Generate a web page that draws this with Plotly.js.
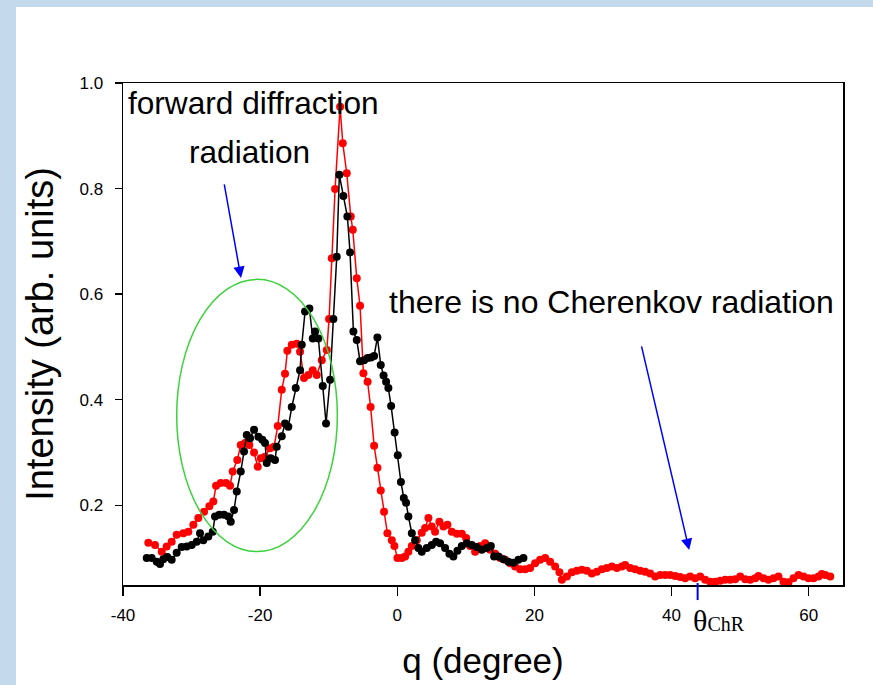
<!DOCTYPE html>
<html>
<head>
<meta charset="utf-8">
<script src="https://cdn.plot.ly/plotly-3.0.1.min.js"></script>
<style>html,body{margin:0;padding:0;background:#fff;}#chart{width:873px;height:685px;}</style>
</head>
<body>
<div id="chart"></div>
<script>
// Red series
const redX = [-36.31,-35.33,-34.35,-33.63,-32.90,-32.17,-31.20,-30.47,-29.74,-29.02,
-28.18,-27.41,-26.83,-26.43,-25.75,-24.97,-24.39,-24.00,-23.33,-22.83,
-22.20,-21.58,-20.89,-20.35,-19.91,-19.29,-18.56,-17.97,-17.43,-16.85,
-16.37,-16.03,-15.39,-14.66,-14.18,-13.60,-12.97,-12.33,-11.74,-11.01,
-10.28,-9.95,-9.55,-9.07,-8.34,-7.95,-7.37,-6.78,-6.49,-5.91,
-5.43,-4.94,-4.33,-3.89,-3.38,-2.90,-2.41,-1.93,-1.44,-0.80,
-0.42,0.02,0.66,1.14,1.62,2.12,2.84,3.57,4.06,4.54,
5.03,5.51,6.14,6.73,7.31,7.95,8.68,9.41,10.04,10.62,
11.35,12.08,12.81,13.54,14.27,15.00,15.73,16.46,17.18,17.91,
18.64,19.37,20.10,20.83,21.56,22.29,23.02,23.65,24.00,24.73,
25.46,26.19,26.92,27.65,28.37,29.10,29.83,30.56,31.29,32.02,
32.75,33.23,33.96,34.69,35.42,36.15,36.88,37.61,38.34,39.07,
39.80,40.53,41.26,41.98,42.71,43.44,44.17,44.90,45.63,46.36,
47.09,47.82,48.55,49.28,50.01,50.74,51.47,52.20,52.68,53.41,
54.13,54.86,55.59,56.32,57.05,57.78,58.51,59.24,59.97,60.70,
61.43,61.92,62.41,63.14];
const redY = [0.129,0.125,0.112,0.122,0.131,0.144,0.147,0.150,0.163,0.176,
0.188,0.198,0.207,0.237,0.242,0.242,0.237,0.264,0.286,0.314,
0.318,0.314,0.300,0.273,0.289,0.292,0.308,0.311,0.350,0.419,
0.449,0.493,0.504,0.506,0.491,0.441,0.447,0.456,0.447,0.475,
0.494,0.553,0.668,0.799,0.955,0.886,0.829,0.747,0.722,0.630,
0.578,0.450,0.434,0.386,0.313,0.271,0.228,0.188,0.147,0.134,
0.123,0.100,0.100,0.103,0.112,0.123,0.134,0.148,0.157,0.176,
0.160,0.150,0.169,0.160,0.163,0.150,0.146,0.146,0.138,0.123,
0.112,0.123,0.128,0.116,0.108,0.100,0.097,0.090,0.084,0.079,
0.079,0.081,0.090,0.097,0.100,0.093,0.084,0.073,0.059,0.065,
0.073,0.076,0.078,0.076,0.071,0.074,0.079,0.081,0.084,0.081,
0.084,0.087,0.081,0.079,0.076,0.074,0.071,0.065,0.068,0.068,
0.068,0.066,0.064,0.062,0.065,0.062,0.065,0.059,0.055,0.055,
0.057,0.059,0.059,0.060,0.065,0.060,0.059,0.062,0.066,0.062,
0.059,0.062,0.065,0.055,0.054,0.062,0.068,0.065,0.062,0.062,
0.065,0.070,0.068,0.065];

// Black series
const blackX = [-36.54,-35.81,-35.08,-34.60,-34.12,-33.54,-32.90,-32.17,-31.44,-30.71,
-29.98,-29.25,-28.77,-28.29,-27.56,-26.91,-26.58,-25.95,-25.27,-24.64,
-24.29,-23.81,-23.41,-22.83,-22.35,-21.95,-21.47,-20.89,-20.26,-19.68,
-19.29,-19.04,-18.45,-17.83,-17.58,-16.85,-16.37,-15.89,-15.39,-14.81,
-14.18,-13.93,-13.45,-12.82,-12.33,-11.99,-11.51,-10.87,-10.39,-9.80,
-9.32,-8.83,-8.45,-7.86,-7.28,-6.89,-6.40,-5.91,-5.43,-4.84,
-4.33,-3.82,-3.38,-2.90,-2.41,-2.00,-1.63,-1.30,-0.90,-0.39,
0.07,0.53,0.95,1.28,1.62,2.12,2.60,3.08,3.57,4.30,
5.03,5.66,6.24,6.97,7.60,8.18,8.77,9.41,10.14,10.87,
11.60,12.33,13.06,13.64,14.12,14.75,15.48,16.21,16.94,17.67,
18.40];
const blackY = [0.100,0.100,0.093,0.089,0.098,0.102,0.097,0.110,0.121,0.122,
0.125,0.131,0.147,0.134,0.141,0.150,0.179,0.182,0.182,0.179,
0.169,0.191,0.226,0.264,0.302,0.333,0.327,0.343,0.330,0.324,
0.318,0.280,0.289,0.286,0.311,0.331,0.355,0.349,0.386,0.422,
0.456,0.504,0.567,0.573,0.516,0.529,0.516,0.426,0.355,0.438,
0.553,0.671,0.826,0.786,0.747,0.679,0.529,0.513,0.473,0.475,
0.479,0.480,0.483,0.518,0.466,0.446,0.434,0.422,0.388,0.338,
0.295,0.244,0.214,0.205,0.179,0.147,0.134,0.119,0.112,0.119,
0.125,0.131,0.128,0.119,0.108,0.103,0.114,0.123,0.128,0.125,
0.121,0.116,0.119,0.123,0.103,0.103,0.098,0.093,0.091,0.097,
0.100];

// Ticks
const xTickVals = [-40, -20, 0, 20, 40, 60];
const xTickText = ["-40", "-20", "0", "20", "40", "60"];
const yTickVals = [0.2, 0.4, 0.6, 0.8, 1.0];
const yTickText = ["0.2", "0.4", "0.6", "0.8", "1.0"];

// Texts
const xTitle = "q (degree)";
const yTitle = "Intensity (arb. units)";
const note1a = "forward diffraction";
const note1b = "radiation";
const note2 = "there is no Cherenkov radiation";
const thetaLabel = "θ<span style='font-size:20px'>ChR</span>";
const thetaChR = 43.8;

const SANS = "Liberation Sans, Arial, sans-serif";
const SERIF = "Liberation Serif, Times New Roman, serif";
const BAND = "rgb(197,217,237)";

const traces = [
  {x: redX, y: redY, type: "scatter", mode: "lines+markers",
   line: {color: "#ff0000", width: 1.5}, marker: {color: "#ff0000", size: 8},
   showlegend: false, hoverinfo: "x+y"},
  {x: blackX, y: blackY, type: "scatter", mode: "lines+markers",
   line: {color: "#000000", width: 1.5}, marker: {color: "#000000", size: 8},
   showlegend: false, hoverinfo: "x+y"}
];

const layout = {
  width: 873, height: 685, autosize: false,
  margin: {l: 123, r: 30, t: 83, b: 100, pad: 0},
  paper_bgcolor: "#ffffff", plot_bgcolor: "rgba(0,0,0,0)",
  font: {family: SANS, color: "#000"},
  showlegend: false,
  xaxis: {
    range: [-40, 65], tickmode: "array", tickvals: xTickVals, ticktext: xTickText,
    ticks: "outside", ticklen: 9, tickwidth: 1.5, tickcolor: "#000",
    showline: true, linecolor: "#000", linewidth: 1.5, mirror: true,
    showgrid: false, zeroline: false, ticklabelstandoff: 5,
    tickfont: {size: 17, family: SANS, color: "#000"},
    title: {text: xTitle, font: {size: 35, family: SANS, color: "#000"}, standoff: 24}
  },
  yaxis: {
    range: [0.049, 1.0], tickmode: "array", tickvals: yTickVals, ticktext: yTickText,
    ticks: "outside", ticklen: 7, tickwidth: 1.5, tickcolor: "#000",
    showline: true, linecolor: "#000", linewidth: 1.5, mirror: true,
    showgrid: false, zeroline: false, ticklabelstandoff: 8,
    tickfont: {size: 17, family: SANS, color: "#000"},
    title: {text: yTitle, font: {size: 38, family: SANS, color: "#000"}, standoff: 14}
  },
  shapes: [
    {type: "rect", xref: "paper", yref: "paper", x0: -0.1709, x1: -0.1486, y0: -0.2, y1: 1.166,
     fillcolor: BAND, line: {width: 0}, layer: "below"},
    {type: "rect", xref: "paper", yref: "paper", x0: -0.1709, x1: 1.042, y0: 1.1514, y1: 1.166,
     fillcolor: BAND, line: {width: 0}, layer: "below"},
    {type: "circle", xref: "x", yref: "y", x0: -32.17, x1: -8.74, y0: 0.1123, y1: 0.628,
     line: {color: "#3cd23c", width: 1.5}, fillcolor: "rgba(0,0,0,0)"},
    {type: "line", xref: "x", yref: "paper", x0: thetaChR, x1: thetaChR, y0: 0.004, y1: -0.03,
     line: {color: "#0000ff", width: 2}}
  ],
  annotations: [
    {text: note1a, xref: "paper", yref: "paper", x: 0.004, y: 0.960, xanchor: "left", yanchor: "middle",
     showarrow: false, font: {size: 31.6, family: SANS, color: "#000"}},
    {text: note1b, xref: "paper", yref: "paper", x: 0.176, y: 0.8625, xanchor: "center", yanchor: "middle",
     showarrow: false, font: {size: 31.6, family: SANS, color: "#000"}},
    {text: note2, xref: "paper", yref: "paper", x: 0.3667, y: 0.5637, xanchor: "left", yanchor: "middle",
     showarrow: false, font: {size: 32, family: SANS, color: "#000"}},
    {text: thetaLabel, xref: "x", yref: "paper", x: 42.9, y: -0.07, xanchor: "left", yanchor: "middle",
     showarrow: false, font: {size: 30, family: SERIF, color: "#000"}},
    {text: "", xref: "x", yref: "y", x: -22.79, y: 0.6307, axref: "x", ayref: "y", ax: -25.27, ay: 0.8106,
     showarrow: true, arrowhead: 2, arrowsize: 1.5, arrowwidth: 1.5, arrowcolor: "#0000ff", standoff: 0},
    {text: "", xref: "x", yref: "y", x: 42.57, y: 0.1155, axref: "x", ayref: "y", ax: 35.57, ay: 0.5038,
     showarrow: true, arrowhead: 2, arrowsize: 1.5, arrowwidth: 1.5, arrowcolor: "#0000ff", standoff: 0}
  ]
};

Plotly.newPlot("chart", traces, layout, {staticPlot: true, displayModeBar: false});
</script>
</body>
</html>
